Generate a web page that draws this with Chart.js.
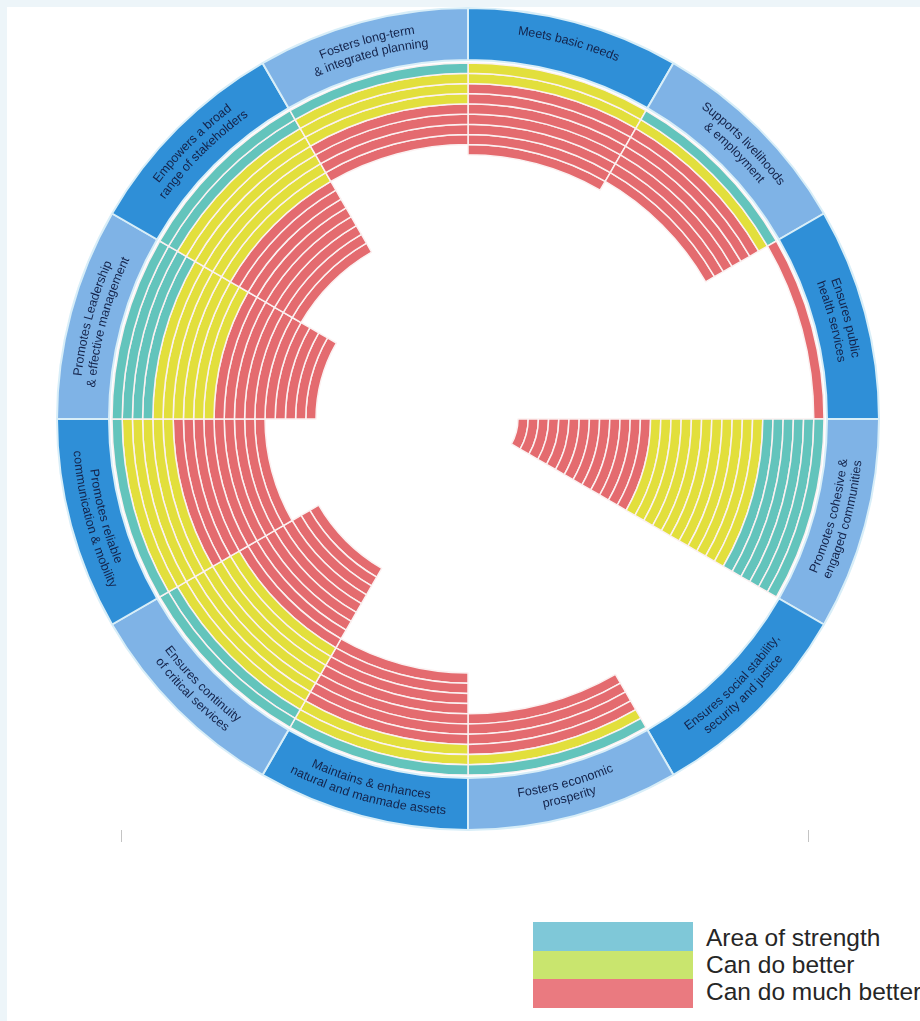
<!DOCTYPE html>
<html>
<head>
<meta charset="utf-8">
<script src="https://cdn.jsdelivr.net/npm/chart.js@4.4.1/dist/chart.umd.min.js"></script>
<style>
  html, body { margin:0; padding:0; width:920px; height:1021px; overflow:hidden; background:#edf5f9; }
  #page { position:absolute; left:7px; top:7px; right:0; bottom:0; background:#ffffff; }
  #wrap { position:absolute; left:56px; top:7px; width:824px; height:824px; }
  #legend { position:absolute; left:533px; top:922px; width:400px; height:90px; }
  .sw { position:absolute; left:0; width:160px; }
  .lt { position:absolute; left:173px; white-space:nowrap; font-family:"Liberation Sans", Arial, sans-serif; font-size:24.5px; color:#262626; line-height:27px; }
  .tick { position:absolute; width:1px; height:12px; background:#c4c4c4; top:830px; }
</style>
</head>
<body>
<div id="page"></div>
<div class="tick" style="left:121px"></div>
<div class="tick" style="left:808px"></div>
<div id="wrap"><canvas id="c"></canvas></div>
<div id="legend"></div>
<script>
// ---- data ----
const categories = [
  ["Meets basic needs"],
  ["Supports livelihoods", "& employment"],
  ["Ensures public", "health services"],
  ["Promotes cohesive &", "engaged communities"],
  ["Ensures social stability,", "security and justice"],
  ["Fosters economic", "prosperity"],
  ["Maintains & enhances", "natural and manmade assets"],
  ["Ensures continuity", "of critical services"],
  ["Promotes reliable", "communication & mobility"],
  ["Promotes Leadership", "& effective management"],
  ["Empowers a broad", "range of stakeholders"],
  ["Fosters long-term", "& integrated planning"]
];
const seriesNames = ["Area of strength", "Can do better", "Can do much better"];
const areaOfStrength  = [0, 1, 0,  6, 0, 1, 1, 2, 1,  4, 2, 1];
const canDoBetter     = [2, 1, 0, 11, 0, 1, 2, 7, 5,  6, 6, 3];
const canDoMuchBetter = [7, 6, 1, 13, 0, 4, 7, 9, 9, 10, 8, 4];

// ---- styles ----
const seriesColors = ["#63c4bc", "#e2df3c", "#e46b6f"];
const legendColors = ["#7fc8d8", "#c9e56e", "#ea7a80"];
const labelRingColors = ["#2f8fd7", "#7fb3e6"];
const TRANSPARENT = "rgba(0,0,0,0)";
const SEPARATOR = "#fbf1f1";

const totals = categories.map((_, s) => areaOfStrength[s] + canDoBetter[s] + canDoMuchBetter[s]);
const RINGS = Math.max(...totals);

const datasets = [];
// outer label ring
datasets.push({
  data: categories.map(() => 1),
  backgroundColor: categories.map((_, i) => labelRingColors[i % 2]),
  borderColor: "#d8eef8",
  borderWidth: 2,
  weight: 52
});
// thin gap ring
datasets.push({
  data: categories.map(() => 1),
  backgroundColor: TRANSPARENT,
  borderColor: TRANSPARENT,
  borderWidth: 0,
  weight: 3
});
// one dataset per concentric unit ring (outermost first)
for (let k = 0; k < RINGS; k++) {
  const colors = categories.map((_, s) => {
    const a = areaOfStrength[s], b = a + canDoBetter[s], c = b + canDoMuchBetter[s];
    if (k < a) return seriesColors[0];
    if (k < b) return seriesColors[1];
    if (k < c) return seriesColors[2];
    return TRANSPARENT;
  });
  datasets.push({
    data: categories.map(() => 1),
    backgroundColor: colors,
    borderColor: colors.map(c => c === TRANSPARENT ? TRANSPARENT : SEPARATOR),
    borderWidth: 1.5,
    weight: 10.2
  });
}

function drawArcText(ctx, text, cx, cy, r, mid, top) {
  const total = ctx.measureText(text).width;
  let acc = 0;
  for (const ch of text) {
    const w = ctx.measureText(ch).width;
    const off = (acc + w / 2 - total / 2) / r;
    const a = top ? mid + off : mid - off;
    ctx.save();
    ctx.translate(cx + r * Math.cos(a), cy + r * Math.sin(a));
    ctx.rotate(top ? a + Math.PI / 2 : a - Math.PI / 2);
    ctx.fillText(ch, 0, 0);
    ctx.restore();
    acc += w;
  }
}

const arcLabels = {
  id: "arcLabels",
  afterDatasetsDraw(chart) {
    const meta = chart.getDatasetMeta(0);
    const ctx = chart.ctx;
    ctx.save();
    ctx.fillStyle = "#14234a";
    ctx.font = "12.5px 'Liberation Sans', Arial, sans-serif";
    ctx.textAlign = "center";
    ctx.textBaseline = "middle";
    meta.data.forEach((arc, i) => {
      const lines = categories[i];
      const mid = (arc.startAngle + arc.endAngle) / 2;
      const top = Math.sin(mid) < 0.001;
      const rMid = (arc.outerRadius + arc.innerRadius) / 2 + (lines.length === 1 ? 6 : 0);
      const lh = 14.5;
      lines.forEach((line, j) => {
        const d = (j - (lines.length - 1) / 2) * lh;
        const r = top ? rMid - d : rMid + d;
        drawArcText(ctx, line, arc.x, arc.y, r, mid, top);
      });
    });
    ctx.restore();
  }
};

new Chart(document.getElementById("c"), {
  type: "doughnut",
  data: { labels: categories.map(l => l.join(" ")), datasets },
  options: {
    responsive: true,
    maintainAspectRatio: false,
    animation: false,
    events: [],
    cutout: 50,
    layout: { padding: 0 },
    plugins: { legend: { display: false }, tooltip: { enabled: false } }
  },
  plugins: [arcLabels]
});

// legend
const lg = document.getElementById("legend");
seriesNames.forEach((name, i) => {
  const sw = document.createElement("div");
  sw.className = "sw";
  sw.style.top = (i * 28.5) + "px";
  sw.style.height = "28.5px";
  sw.style.background = legendColors[i];
  lg.appendChild(sw);
  const t = document.createElement("div");
  t.className = "lt";
  t.style.top = (i * 27 + 2) + "px";
  t.textContent = name;
  lg.appendChild(t);
});
</script>
</body>
</html>
